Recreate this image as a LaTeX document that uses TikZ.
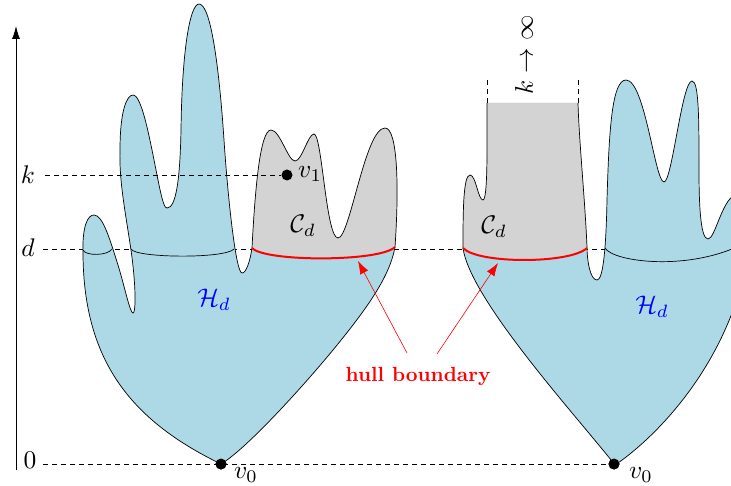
\documentclass[tikz,border=0pt]{standalone}
\usetikzlibrary{arrows.meta}
\definecolor{hullblue}{RGB}{173,216,230}
\definecolor{hullgray}{RGB}{211,211,211}
\newcommand{\biglbl}[1]{\scalebox{2.55}{#1}}
\tikzset{
  outline/.style={draw=black,line width=0.7pt},
  guide/.style={draw=black,line width=0.7pt,dash pattern=on 5pt off 4pt},
  cut/.style={draw=black,line width=0.7pt},
  hullarc/.style={draw=red,line width=2pt},
  vdot/.style={circle,fill=black,inner sep=0pt,minimum size=11pt},
  lab/.style={inner sep=1pt},
  pointer/.style={draw=red,line width=0.6pt,-{Latex[length=13pt,width=9pt]}}
}
\begin{document}
\begin{tikzpicture}[x=1pt,y=-1pt]
\useasboundingbox (0,0) rectangle (731,486);
\clip (0,0) rectangle (731,486);

% coordinates
\coordinate (axb) at (16,470);
\coordinate (axt) at (16,26);
\coordinate (ks) at (45,175);
\coordinate (ds) at (43,249);
\coordinate (de) at (620,249);
\coordinate (zs) at (43,464);
\node[vdot] (v0a) at (221,464) {};
\node[vdot] (v0b) at (614,464) {};
\node[vdot] (v1) at (287,175) {};

% axis
\draw[line width=0.9pt,-{Latex[length=13pt,width=8pt]}] (axb) -- (axt);
\node[lab] (lk) at (28,175) {\biglbl{$k$}};
\node[lab] (ld) at (28,248) {\biglbl{$d$}};
\node[lab] (l0) at (30,460) {\biglbl{$0$}};

% guides behind shapes
\draw[guide] (ds) -- (de);
\draw[guide] (zs) -- (v0b);

% left shape
\def\leftshape{(221,464) .. controls (130,420) and (84,360) .. (83,255)
 .. controls (82,225) and (88,215) .. (94,215)
 .. controls (103,215) and (110,240) .. (118,265)
 .. controls (125,288) and (130,313) .. (133,313)
 .. controls (136,313) and (136,285) .. (131,250)
 .. controls (125,210) and (119,180) .. (120,150)
 .. controls (120,110) and (127,95) .. (133,95)
 .. controls (142,95) and (150,140) .. (158,180)
 .. controls (163,205) and (165,208) .. (167,208)
 .. controls (176,208) and (180,180) .. (181,130)
 .. controls (182,50) and (190,4) .. (199,4)
 .. controls (212,4) and (220,80) .. (224,140)
 .. controls (228,200) and (236,273) .. (242,273)
 .. controls (246,273) and (250,262) .. (252,248)
 .. controls (255,190) and (260,130) .. (271,130)
 .. controls (280,130) and (288,161) .. (295,161)
 .. controls (302,161) and (308,134) .. (314,134)
 .. controls (322,134) and (326,238) .. (338,238)
 .. controls (350,238) and (365,128) .. (385,128)
 .. controls (398,128) and (399,190) .. (395,247)
 .. controls (390,275) and (370,305) .. (333,350)
 .. controls (300,390) and (245,450) .. (221,464) -- cycle}
\fill[hullblue] \leftshape;
\begin{scope}
  \clip \leftshape;
  \fill[hullgray] (248,110) -- (248,248) -- (252,248) .. controls (265,262) and (380,262) .. (395,247)
    -- (410,247) -- (410,110) -- cycle;
\end{scope}
\draw[outline] \leftshape;
\draw[cut] (83,250) .. controls (85,256) and (108,256) .. (112,249);
\draw[cut] (131,249) .. controls (135,258) and (225,259) .. (234,249);
\draw[hullarc] (252,248) .. controls (265,262) and (380,262) .. (395,247);

% right shape
\def\rightshape{(487,103) .. controls (487,140) and (488,200) .. (483,200)
 .. controls (478,200) and (476,175) .. (470,175)
 .. controls (463,175) and (463,215) .. (463,248)
 .. controls (470,300) and (580,420) .. (615,465)
 .. controls (645,445) and (705,390) .. (735,305)
 -- (760,300) -- (760,190)
 -- (735,195)
 .. controls (722,200) and (715,239) .. (708,239)
 .. controls (700,239) and (699,200) .. (699,170)
 .. controls (699,120) and (699,81) .. (692,81)
 .. controls (682,81) and (672,182) .. (664,182)
 .. controls (655,182) and (645,80) .. (626,80)
 .. controls (612,80) and (609,130) .. (607,200)
 .. controls (606,250) and (603,280) .. (597,280)
 .. controls (590,280) and (587,260) .. (587,247)
 .. controls (585,200) and (579,140) .. (578,103)}
\fill[hullblue] \rightshape -- cycle;
\begin{scope}
  \clip \rightshape -- cycle;
  \fill[hullgray] (460,100) -- (460,248) -- (463,248) .. controls (478,264) and (570,264) .. (587,248)
    -- (590,248) -- (590,100) -- cycle;
\end{scope}
\draw[outline] \rightshape;
\coordinate (cl) at (487,103);
\coordinate (cr) at (578,103);
\coordinate (cl2) at (487,80);
\coordinate (cr2) at (578,80);
\draw[outline,dash pattern=on 5pt off 4pt] (cl) -- (cl2);
\draw[outline,dash pattern=on 5pt off 4pt] (cr) -- (cr2);
\draw[cut] (605,248) .. controls (613,262) and (690,272) .. (745,243);
\draw[hullarc] (463,248) .. controls (478,264) and (570,264) .. (587,248);

% k line and dots on top
\draw[guide] (ks) -- (v1);
\node[vdot] at (v1) {};
\node[vdot] at (v0a) {};
\node[vdot] at (v0b) {};

% labels
\node[lab,anchor=west] (lv1) at (297,174) {\biglbl{$v_1$}};
\node[lab] (lv0a) at (246,475) {\biglbl{$v_0$}};
\node[lab] (lv0b) at (641,475) {\biglbl{$v_0$}};
\node[lab] (lcl) at (303,226) {\biglbl{$\mathcal{C}_d$}};
\node[lab] (lcr) at (494,227) {\biglbl{$\mathcal{C}_d$}};
\node[lab,text=blue] (lhl) at (214,300) {\biglbl{$\mathcal{H}_d$}};
\node[lab,text=blue] (lhr) at (652,307) {\biglbl{$\mathcal{H}_d$}};
\node[lab,rotate=90] (linf) at (524,55) {\biglbl{$k\to\infty$}};

% hull boundary
\node[text=red,inner sep=1pt] (hb) at (418,376) {\scalebox{2.05}{\bfseries hull boundary}};
\coordinate (pa) at (407,353);
\coordinate (pb) at (437,354);
\coordinate (ta) at (358,261);
\coordinate (tb) at (498,263);
\draw[pointer] (pa) -- (ta);
\draw[pointer] (pb) -- (tb);
\end{tikzpicture}
\end{document}
